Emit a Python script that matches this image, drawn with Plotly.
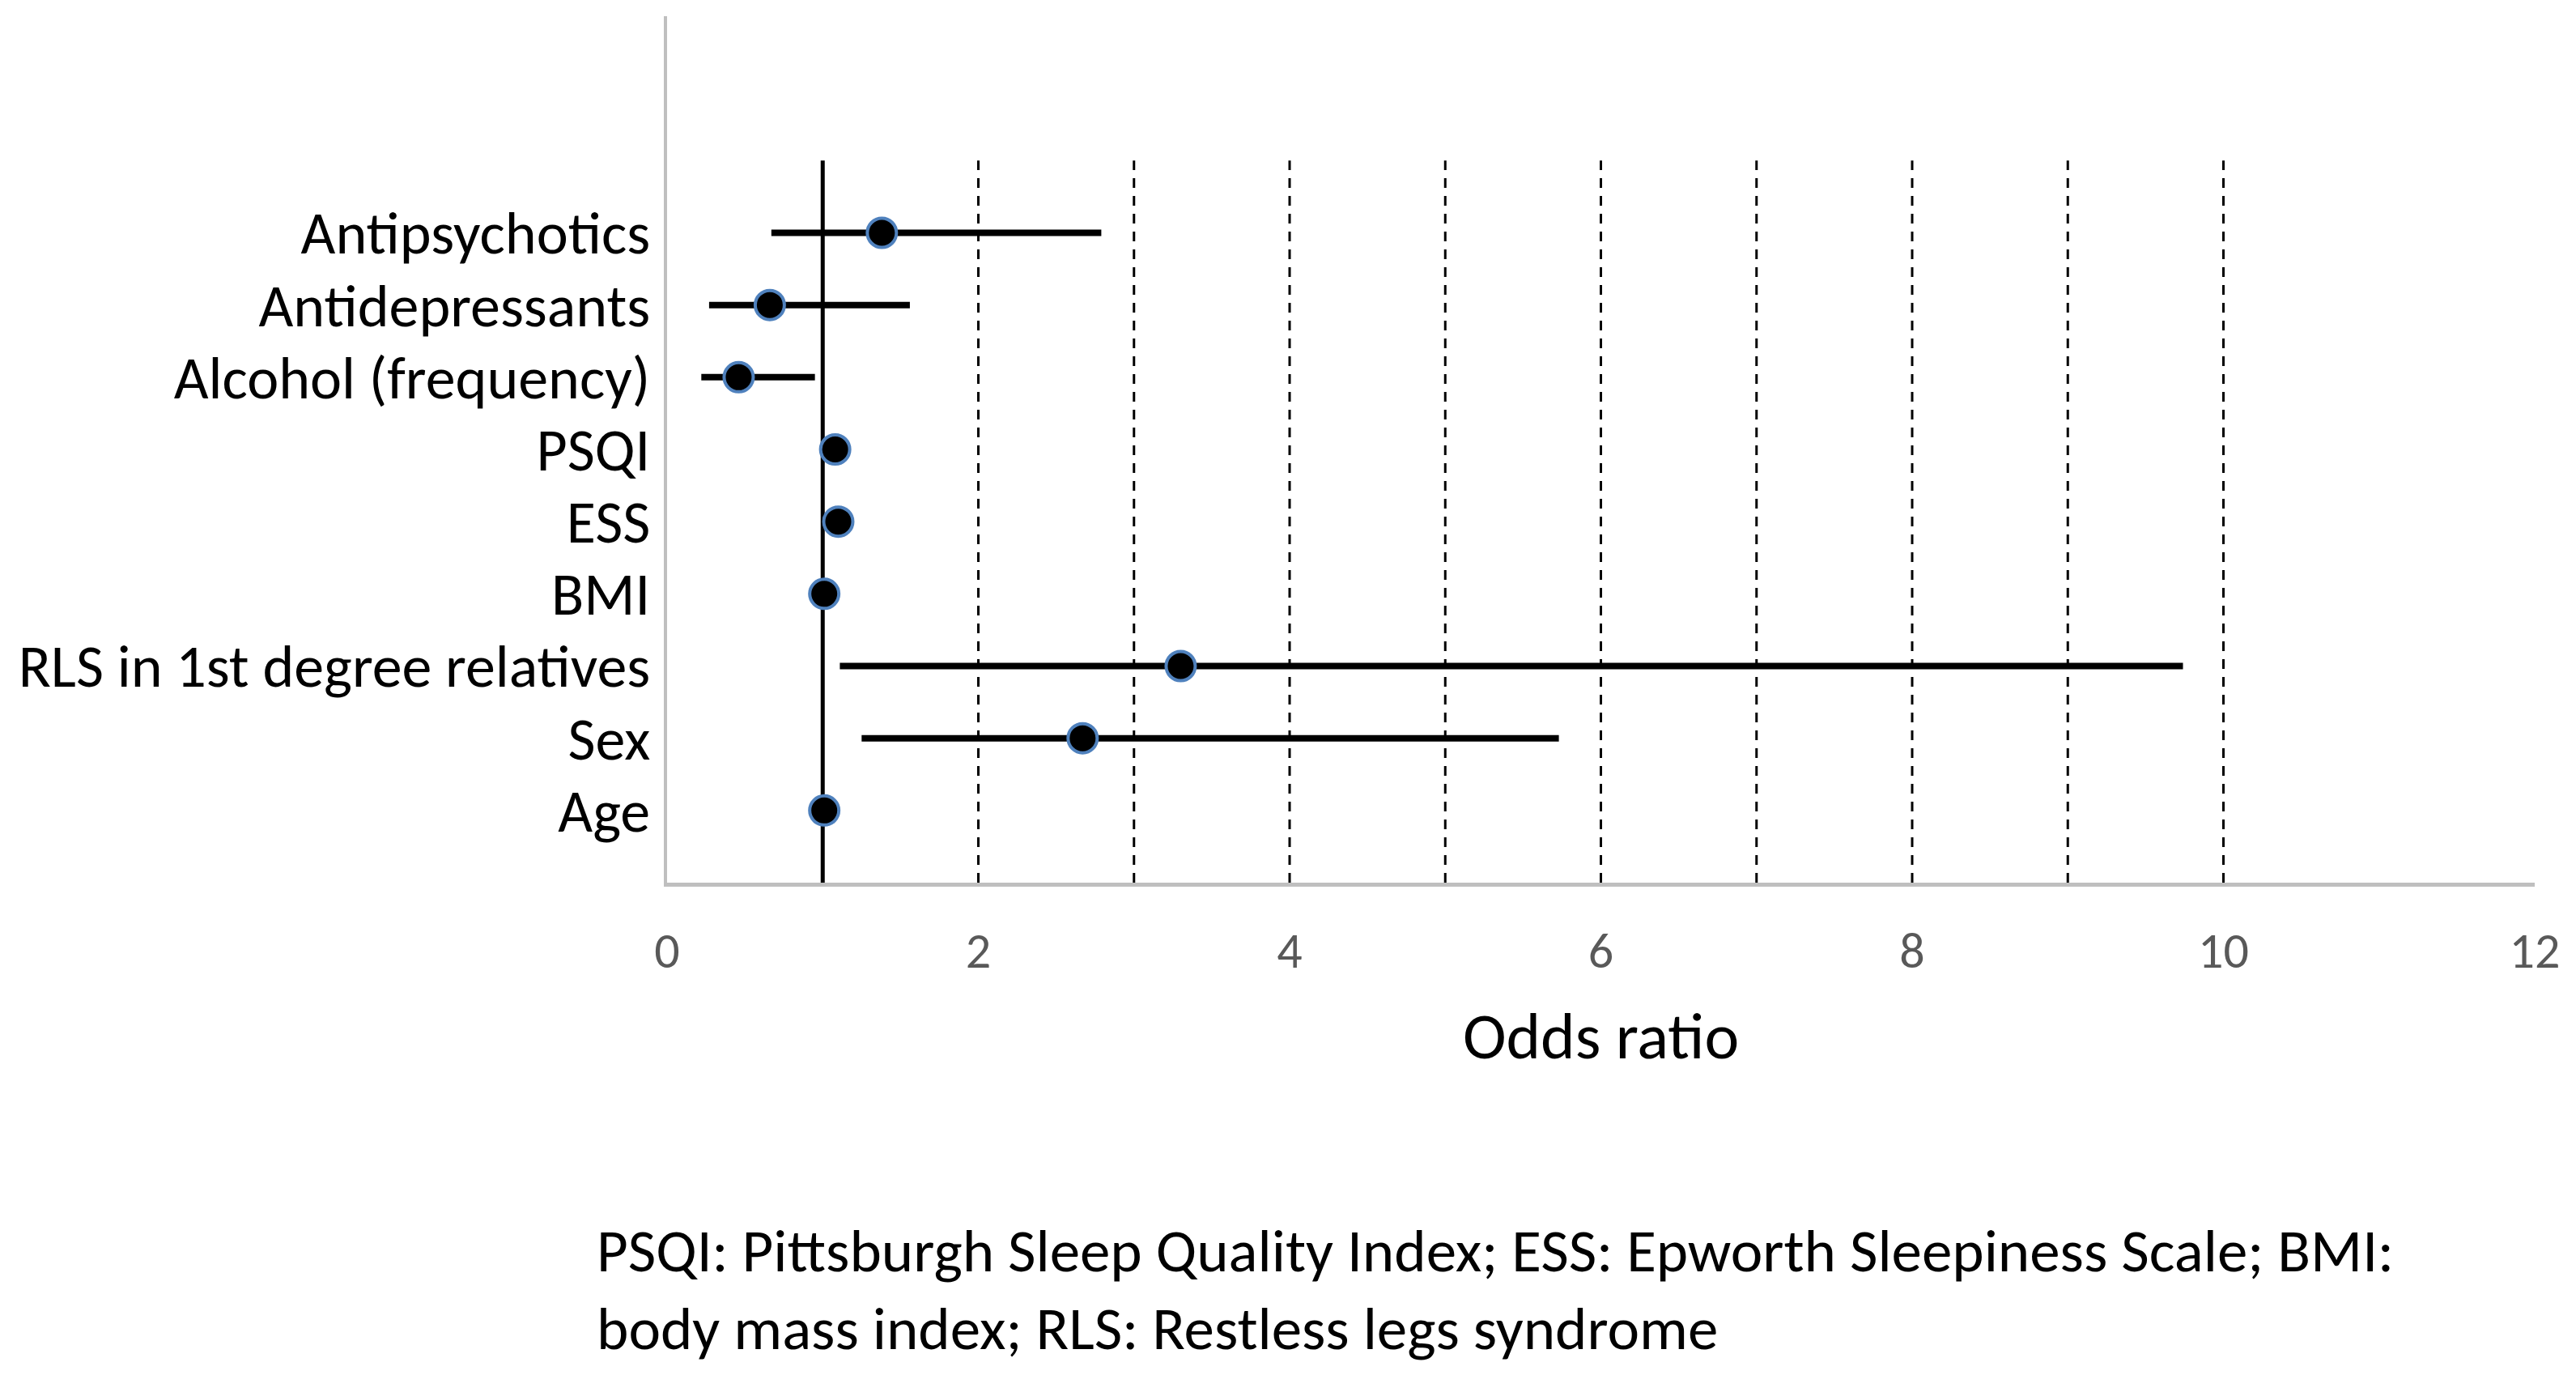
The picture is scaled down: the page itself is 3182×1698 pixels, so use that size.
import plotly.graph_objects as go

# forest plot data, listed bottom to top
variables = ['Age', 'Sex', 'RLS in 1st degree relatives', 'BMI', 'ESS', 'PSQI',
             'Alcohol (frequency)', 'Antidepressants', 'Antipsychotics']
row_pos = [1, 2, 3, 4, 5, 6, 7, 8, 9]
odds_ratio = [1.01, 2.67, 3.30, 1.01, 1.10, 1.08, 0.46, 0.66, 1.38]
ci_low = [0.99, 1.25, 1.11, 0.98, 1.05, 1.03, 0.22, 0.27, 0.67]
ci_high = [1.03, 5.73, 9.74, 1.04, 1.15, 1.13, 0.95, 1.56, 2.79]

ref_line_x = [1]
dashed_x = [2, 3, 4, 5, 6, 7, 8, 9, 10]
line_span = [0, 10]

x_ticks = [0, 2, 4, 6, 8, 10, 12]

FONT = "Carlito, 'Liberation Sans Narrow', 'Open Sans', sans-serif"

fig = go.Figure()

# vertical guide lines
for xv in dashed_x:
    fig.add_trace(go.Scatter(
        x=[xv, xv], y=line_span, mode='lines',
        line=dict(color='black', width=3, dash='12px,10px'),
        hoverinfo='skip', showlegend=False))
for xv in ref_line_x:
    fig.add_trace(go.Scatter(
        x=[xv, xv], y=line_span, mode='lines',
        line=dict(color='black', width=5),
        hoverinfo='skip', showlegend=False))

err_plus = [h - o for h, o in zip(ci_high, odds_ratio)]
err_minus = [o - l for o, l in zip(odds_ratio, ci_low)]

fig.add_trace(go.Scatter(
    x=odds_ratio, y=row_pos, mode='markers',
    error_x=dict(type='data', symmetric=False, array=err_plus, arrayminus=err_minus,
                 color='black', thickness=8, width=0),
    marker=dict(size=36, color='black', line=dict(color='#4F81BD', width=4)),
    text=variables,
    hovertemplate='<b>%{text}</b><br>OR: %{x}<extra></extra>',
    showlegend=False))

# page body has an 8px margin, so the figure is a bit smaller than the window
fig.update_layout(
    width=3166, height=1682,
    margin=dict(l=816, r=43, t=12, b=600),
    paper_bgcolor='white', plot_bgcolor='white',
    font=dict(family=FONT, color='black'),
    xaxis=dict(range=[0, 12], tickvals=x_ticks, showgrid=False, zeroline=False,
               showline=True, linecolor='#BFBFBF', linewidth=5, ticks='',
               tickfont=dict(size=62, color='#595959'), ticklabelstandoff=26,
               title=dict(text='Odds ratio', font=dict(size=81, color='black'), standoff=40)),
    yaxis=dict(range=[0, 12], tickvals=row_pos, ticktext=variables, showgrid=False,
               zeroline=False, showline=True, linecolor='#BFBFBF', linewidth=4, ticks='',
               tickfont=dict(size=74, color='black'), ticklabelstandoff=2),
)

footnote = ['PSQI: Pittsburgh Sleep Quality Index; ESS: Epworth Sleepiness Scale; BMI:',
            'body mass index; RLS: Restless legs syndrome']
for i, line in enumerate(footnote):
    fig.add_annotation(text=line, xref='paper', yref='paper',
                       x=(735 - 824) / (3131 - 824), y=-(1544 - 1090 + i * 96) / 1070,
                       xanchor='left', yanchor='middle', showarrow=False,
                       font=dict(size=75, color='black'))

fig.write_html("out.html")
